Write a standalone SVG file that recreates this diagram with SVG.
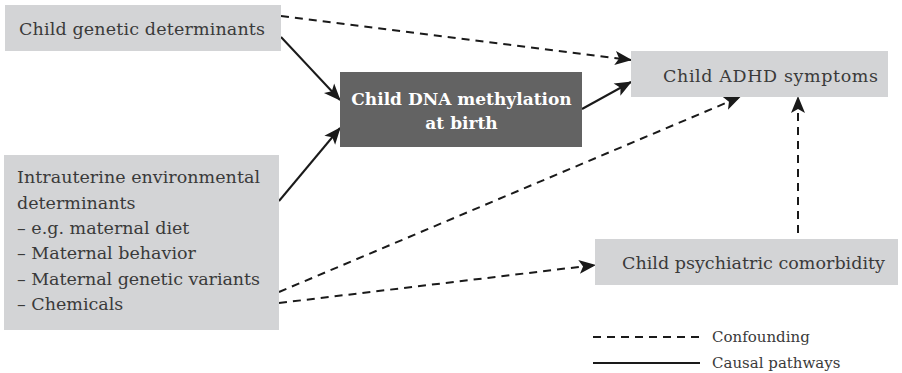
<svg xmlns="http://www.w3.org/2000/svg" width="902" height="373" viewBox="0 0 902 373">
<style>
.box{fill:#d3d4d6}
.dark{fill:#636363}
.t{font-family:"DejaVu Serif","Liberation Serif",serif;font-size:17.5px;fill:#3a3a3a}
.w{font-family:"DejaVu Serif","Liberation Serif",serif;font-size:17px;font-weight:bold;fill:#ffffff}
.lg{font-family:"DejaVu Serif","Liberation Serif",serif;font-size:15px;fill:#3a3a3a}
.s{stroke:#1a1a1a;stroke-width:2;fill:none}
.d{stroke:#1a1a1a;stroke-width:2;fill:none;stroke-dasharray:8 6}
</style>
<defs>
<marker id="ah" markerUnits="userSpaceOnUse" markerWidth="17" markerHeight="14" refX="16" refY="7" orient="auto" overflow="visible">
<path d="M0,0 L17,7 L0,14 L4,7 Z" fill="#1a1a1a"/>
</marker>
</defs>
<g id="connectors">
<line class="d" x1="281" y1="16" x2="631" y2="60" marker-end="url(#ah)"/>
<line class="s" x1="281" y1="37" x2="340" y2="100" marker-end="url(#ah)"/>
<line class="s" x1="279" y1="201" x2="340" y2="128" marker-end="url(#ah)"/>
<line class="s" x1="582" y1="109" x2="631" y2="82" marker-end="url(#ah)"/>
<line class="d" x1="279" y1="292" x2="740" y2="97" marker-end="url(#ah)"/>
<line class="d" x1="279" y1="303" x2="595" y2="265" marker-end="url(#ah)"/>
<line class="d" x1="798" y1="233" x2="798" y2="97" marker-end="url(#ah)"/>
</g>
<g id="node-genetic">
<rect class="box" x="5" y="5" width="276" height="46"/>
<text class="t" x="19" y="35" textLength="246">Child genetic determinants</text>
</g>
<g id="node-dna">
<rect class="dark" x="340" y="72" width="242" height="75"/>
<text class="w" x="461.5" y="105" text-anchor="middle">Child DNA methylation</text>
<text class="w" x="461.5" y="129" text-anchor="middle">at birth</text>
</g>
<g id="node-adhd">
<rect class="box" x="631" y="51" width="257" height="46"/>
<text class="t" x="663" y="82" textLength="215">Child ADHD symptoms</text>
</g>
<g id="node-intrauterine">
<rect class="box" x="4" y="155" width="275" height="175"/>
<text class="t" x="17" y="183" textLength="243">Intrauterine environmental</text>
<text class="t" x="17" y="209">determinants</text>
<text class="t" x="17" y="234">– e.g. maternal diet</text>
<text class="t" x="17" y="259">– Maternal behavior</text>
<text class="t" x="17" y="285" textLength="243">– Maternal genetic variants</text>
<text class="t" x="17" y="310">– Chemicals</text>
</g>
<g id="node-comorbidity">
<rect class="box" x="595" y="239" width="303" height="46"/>
<text class="t" x="622" y="269" textLength="263">Child psychiatric comorbidity</text>
</g>
<g id="legend">
<line class="d" x1="593" y1="337" x2="699" y2="337"/>
<line class="s" x1="593" y1="363" x2="700" y2="363" stroke-width="2.5"/>
<text class="lg" x="712" y="342">Confounding</text>
<text class="lg" x="712" y="368">Causal pathways</text>
</g>
</svg>
